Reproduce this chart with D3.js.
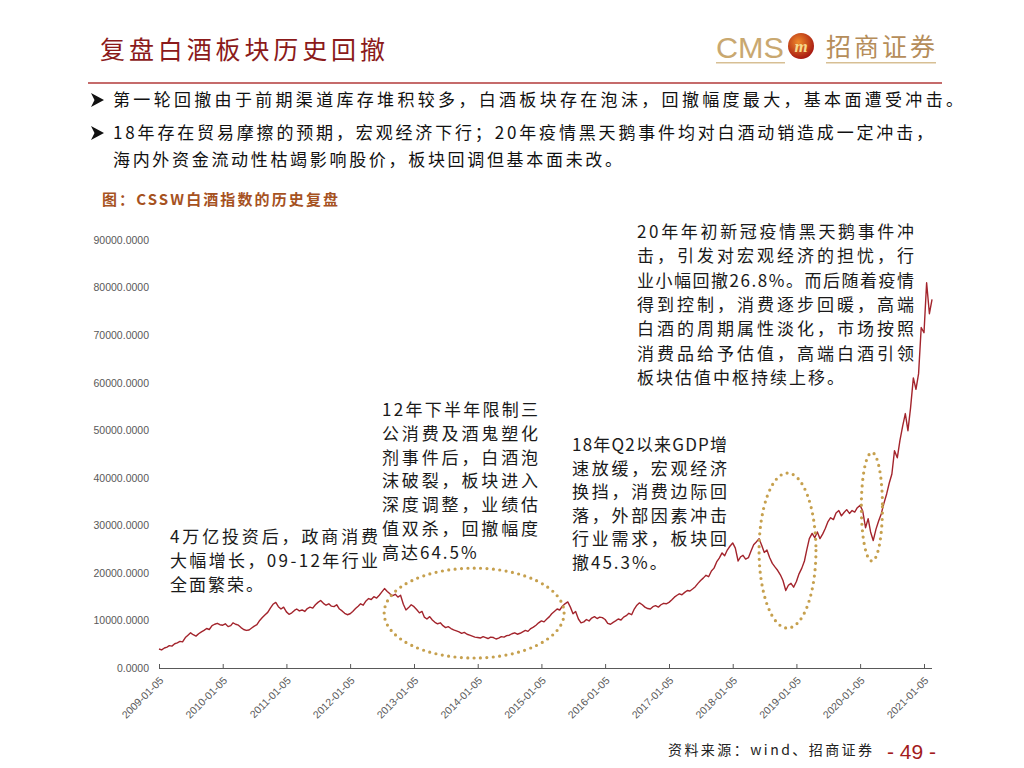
<!DOCTYPE html>
<html lang="zh">
<head>
	<meta charset="utf-8">
	<script src="https://d3js.org/d3.v7.min.js"></script>
	<style type="text/css">
		body { margin: 0; background: #fff; }
		svg { display: block; }
		.cjk { font-family: "Noto Sans CJK SC", sans-serif; }
		.axis text { font: 10.5px "Liberation Sans", Arial, sans-serif; fill: #595959; }
		.axis path, .axis line { stroke: #595959; }
		.note text { font-size: 17px; fill: #1a1a1a; }
	</style>
	<title>复盘白酒板块历史回撤</title>
</head>
<body>
<svg id="page" width="1024" height="768"></svg>
<script type="text/javascript">

	// CSSW白酒指数, 每月5日和20日各一个读数
	var v2009 = [4000, 3800, 4200, 4400, 4700, 4600, 5100, 5300, 5600, 5500, 6400, 6900, 7400, 7000, 6700, 7200, 7600, 7900, 8300, 8100, 8900, 9200, 9400, 9100];
	var v2010 = [9000, 9300, 8700, 8900, 9500, 9200, 9000, 8500, 8100, 7900, 8000, 8400, 8800, 9100, 10000, 10600, 11200, 11700, 12600, 13400, 13800, 12900, 12400, 12800];
	var v2011 = [11800, 11300, 11600, 12100, 12400, 12000, 12200, 11900, 12500, 12800, 12600, 13300, 13800, 14200, 13600, 13200, 13500, 13000, 12900, 13300, 12400, 12000, 11500, 11200];
	var v2012 = [11400, 11900, 12500, 13000, 13500, 13200, 14100, 14600, 14400, 15000, 14700, 15300, 16000, 16700, 16100, 15600, 15200, 15500, 14900, 15300, 13400, 12200, 12700, 13300];
	var v2013 = [12900, 12300, 11600, 11900, 10700, 10300, 10800, 10100, 9600, 9300, 9500, 8900, 8500, 8700, 8300, 8000, 7800, 7600, 7300, 7500, 7100, 6900, 6700, 6500];
	var v2014 = [6400, 6300, 6600, 6400, 6200, 6500, 6400, 6100, 6300, 6600, 6500, 6800, 6900, 7200, 7400, 7100, 7300, 7600, 7900, 7700, 8300, 8600, 9000, 9500];
	var v2015 = [9900, 9700, 10300, 10800, 11400, 11900, 12400, 12200, 13000, 13500, 13900, 12800, 11400, 11900, 10300, 9500, 9700, 10200, 9900, 10500, 10800, 10400, 10700, 10600];
	var v2016 = [10200, 9400, 9200, 9600, 9900, 10300, 10100, 10700, 11000, 11500, 11200, 12400, 13200, 13700, 13300, 12800, 12500, 12400, 12900, 13100, 12800, 13300, 13600, 13500];
	var v2017 = [13800, 14300, 14900, 15300, 15600, 15400, 15900, 16300, 16200, 16600, 17100, 17800, 18400, 18900, 19500, 19200, 20400, 21000, 22300, 23100, 24200, 23600, 24800, 25600];
	var v2018 = [26300, 25200, 22500, 23400, 23700, 22900, 23200, 24600, 25900, 26500, 27200, 25800, 24300, 24800, 23200, 22000, 21200, 20500, 19600, 18400, 16300, 17400, 17800, 17000];
	var v2019 = [18200, 19800, 21000, 22500, 24800, 27200, 28300, 27400, 28600, 27200, 28200, 29400, 30800, 31600, 31200, 32600, 33100, 32000, 32700, 33300, 32500, 33100, 32800, 33700];
	var v2020 = [34200, 33000, 29500, 31400, 28600, 26800, 29200, 30900, 32400, 34600, 36600, 38900, 40800, 45700, 44200, 47800, 50900, 53500, 49900, 54700, 61000, 58600, 61900, 71600];
	var v2021 = [70500, 81000, 74500, 77500];
	var yearSeries = [v2009, v2010, v2011, v2012, v2013, v2014, v2015, v2016, v2017, v2018, v2019, v2020, v2021];

	var xTickLabels = ["2009-01-05", "2010-01-05", "2011-01-05", "2012-01-05", "2013-01-05", "2014-01-05", "2015-01-05",
		"2016-01-05", "2017-01-05", "2018-01-05", "2019-01-05", "2020-01-05", "2021-01-05"];
	var yTicks = [0, 10000, 20000, 30000, 40000, 50000, 60000, 70000, 80000, 90000];

	// 三个虚线圈: 时间跨度和指数区间
	var ringFrom = ["2012-07-18", "2018-06-05", "2020-01-12"];
	var ringTo = ["2015-05-15", "2019-04-27", "2020-05-12"];
	var ringLow = [2100, 8400, 22500];
	var ringHigh = [21000, 41000, 45300];

	var bullets = [
		["第一轮回撤由于前期渠道库存堆积较多，白酒板块存在泡沫，回撤幅度最大，基本面遭受冲击。"],
		["18年存在贸易摩擦的预期，宏观经济下行；20年疫情黑天鹅事件均对白酒动销造成一定冲击，",
		 "海内外资金流动性枯竭影响股价，板块回调但基本面未改。"]
	];

	var note2009 = ["4万亿投资后，政商消费", "大幅增长，09-12年行业", "全面繁荣。"];
	var note2012 = ["12年下半年限制三", "公消费及酒鬼塑化", "剂事件后，白酒泡", "沫破裂，板块进入", "深度调整，业绩估", "值双杀，回撤幅度", "高达64.5%"];
	var note2018 = ["18年Q2以来GDP增", "速放缓，宏观经济", "换挡，消费边际回", "落，外部因素冲击", "行业需求，板块回", "撤45.3%。"];
	var note2020 = ["20年年初新冠疫情黑天鹅事件冲", "击，引发对宏观经济的担忧，行", "业小幅回撤26.8%。而后随着疫情", "得到控制，消费逐步回暖，高端",
		"白酒的周期属性淡化，市场按照", "消费品给予估值，高端白酒引领", "板块估值中枢持续上移。"];

	var parseDay = d3.timeParse("%Y-%m-%d");
	var svg = d3.select("#page");

	// 页眉
	svg.append("text").attr("class", "cjk")
		.attr("x", 100).attr("y", 59)
		.attr("textLength", 285).attr("lengthAdjust", "spacing")
		.style("font-size", "25px").style("fill", "#8b1a1a")
		.text("复盘白酒板块历史回撤");

	svg.append("text")
		.attr("x", 716).attr("y", 58)
		.attr("textLength", 68).attr("lengthAdjust", "spacingAndGlyphs")
		.style("font", "30px 'Liberation Sans Narrow', 'Liberation Sans', sans-serif")
		.style("fill", "#c9a870")
		.text("CMS");

	var grad = svg.append("defs").append("radialGradient").attr("id", "logoGrad")
		.attr("cx", "40%").attr("cy", "35%").attr("r", "65%");
	grad.append("stop").attr("offset", "0%").attr("stop-color", "#f08a2a");
	grad.append("stop").attr("offset", "100%").attr("stop-color", "#a81a12");
	svg.append("circle").attr("cx", 801).attr("cy", 46).attr("r", 13).style("fill", "url(#logoGrad)");
	svg.append("text")
		.attr("x", 801).attr("y", 52).attr("text-anchor", "middle")
		.style("font", "italic bold 17px 'Liberation Serif', serif").style("fill", "#f7d98c")
		.text("m");

	svg.append("text").attr("class", "cjk")
		.attr("x", 826).attr("y", 56)
		.attr("textLength", 109).attr("lengthAdjust", "spacing")
		.style("font-size", "25px").style("fill", "#b58d5a")
		.text("招商证券");

	svg.append("rect").attr("x", 716).attr("y", 62).attr("width", 69).attr("height", 1.5).style("fill", "#d7bf94");
	svg.append("rect").attr("x", 826).attr("y", 62).attr("width", 110).attr("height", 1.5).style("fill", "#d7bf94");

	svg.append("line")
		.attr("x1", 88).attr("x2", 942).attr("y1", 83).attr("y2", 83)
		.style("stroke", "#b23a3a").style("stroke-width", 1.5);

	// 要点 (箭头用路径画)
	var bulletY = [106, 139];
	var bulletWidths = [[850], [820, 509]];
	bullets.forEach(function(lines, i) {
		svg.append("path")
			.attr("transform", "translate(91," + (bulletY[i] - 6) + ")")
			.attr("d", "M0,-7L13,0L0,7L3.5,0Z")
			.style("fill", "#111");
		lines.forEach(function(line, j) {
			svg.append("text").attr("class", "cjk")
				.attr("x", 113).attr("y", bulletY[i] + j * 27)
				.attr("textLength", bulletWidths[i][j]).attr("lengthAdjust", "spacing")
				.style("font-size", "17px").style("fill", "#111")
				.text(line);
		});
	});

	svg.append("text").attr("class", "cjk")
		.attr("x", 102).attr("y", 205)
		.attr("textLength", 236).attr("lengthAdjust", "spacing")
		.style("font-size", "15px").style("font-weight", "700").style("fill", "#a6521f")
		.text("图：CSSW白酒指数的历史复盘");

	// 折线图
	var x = d3.scaleTime()
		.domain([parseDay("2009-01-05"), parseDay("2021-01-05")])
		.range([159, 924]);
	var y = d3.scaleLinear().domain([0, 90000]).range([668, 240]);

	var points = [];
	yearSeries.forEach(function(vals, k) {
		vals.forEach(function(v, i) {
			points.push({date: new Date(2009 + k, Math.floor(i / 2), i % 2 ? 20 : 5), value: v});
		});
	});

	var yAxis = svg.append("g")
		.attr("class", "axis")
		.attr("transform", "translate(159,0)")
		.call(d3.axisLeft(y).tickValues(yTicks).tickSize(0).tickPadding(10).tickFormat(d3.format(".4f")));
	yAxis.select(".domain").remove();

	var xAxis = svg.append("g")
		.attr("class", "axis")
		.attr("transform", "translate(0,668)")
		.call(d3.axisBottom(x).tickValues(xTickLabels.map(parseDay)).tickSizeInner(-4).tickSizeOuter(0)
			.tickFormat(d3.timeFormat("%Y-%m-%d")));
	xAxis.select(".domain").attr("d", "M159,0.5H932");
	xAxis.selectAll("text")
		.attr("x", -6).attr("y", 9).attr("dy", "0.35em")
		.attr("transform", "rotate(-45)")
		.style("text-anchor", "end");

	var line = d3.line()
		.x(function(d) { return x(d.date); })
		.y(function(d) { return y(d.value); });

	svg.append("path")
		.datum(points)
		.attr("d", line)
		.style("fill", "none")
		.style("stroke", "#a3242c")
		.style("stroke-width", 1.4)
		.style("stroke-linejoin", "round");

	// 虚线圈
	svg.selectAll("ellipse.ring")
		.data(ringFrom)
		.enter().append("ellipse")
		.attr("class", "ring")
		.attr("cx", function(d, i) { return (x(parseDay(d)) + x(parseDay(ringTo[i]))) / 2; })
		.attr("cy", function(d, i) { return (y(ringLow[i]) + y(ringHigh[i])) / 2; })
		.attr("rx", function(d, i) { return (x(parseDay(ringTo[i])) - x(parseDay(d))) / 2; })
		.attr("ry", function(d, i) { return (y(ringLow[i]) - y(ringHigh[i])) / 2; })
		.style("fill", "none")
		.style("stroke", "#c6a04e")
		.style("stroke-width", 3.2)
		.style("stroke-linecap", "round")
		.style("stroke-dasharray", "0,6.4");

	// 注释文字
	function drawNote(lines, left, top, lineHeight, width) {
		var g = svg.append("g").attr("class", "note cjk");
		lines.forEach(function(t, i) {
			var txt = g.append("text")
				.attr("x", left).attr("y", top + i * lineHeight)
				.text(t);
			if (i < lines.length - 1) {
				txt.attr("textLength", width).attr("lengthAdjust", "spacing");
			} else {
				txt.style("letter-spacing", "2px");
			}
		});
	}
	drawNote(note2009, 170, 543, 24, 208);
	drawNote(note2012, 382, 416, 23.8, 156);
	drawNote(note2018, 572, 451, 23.6, 155);
	drawNote(note2020, 637, 238, 24.3, 277);

	// 页脚
	svg.append("text").attr("class", "cjk")
		.attr("x", 668).attr("y", 755)
		.attr("textLength", 204).attr("lengthAdjust", "spacing")
		.style("font-size", "14px").style("fill", "#222")
		.text("资料来源：wind、招商证券");
	svg.append("text")
		.attr("x", 887).attr("y", 759)
		.style("font", "21px 'Liberation Sans', Arial, sans-serif").style("fill", "#a31c1c")
		.text("- 49 -");

</script>
</body>
</html>
